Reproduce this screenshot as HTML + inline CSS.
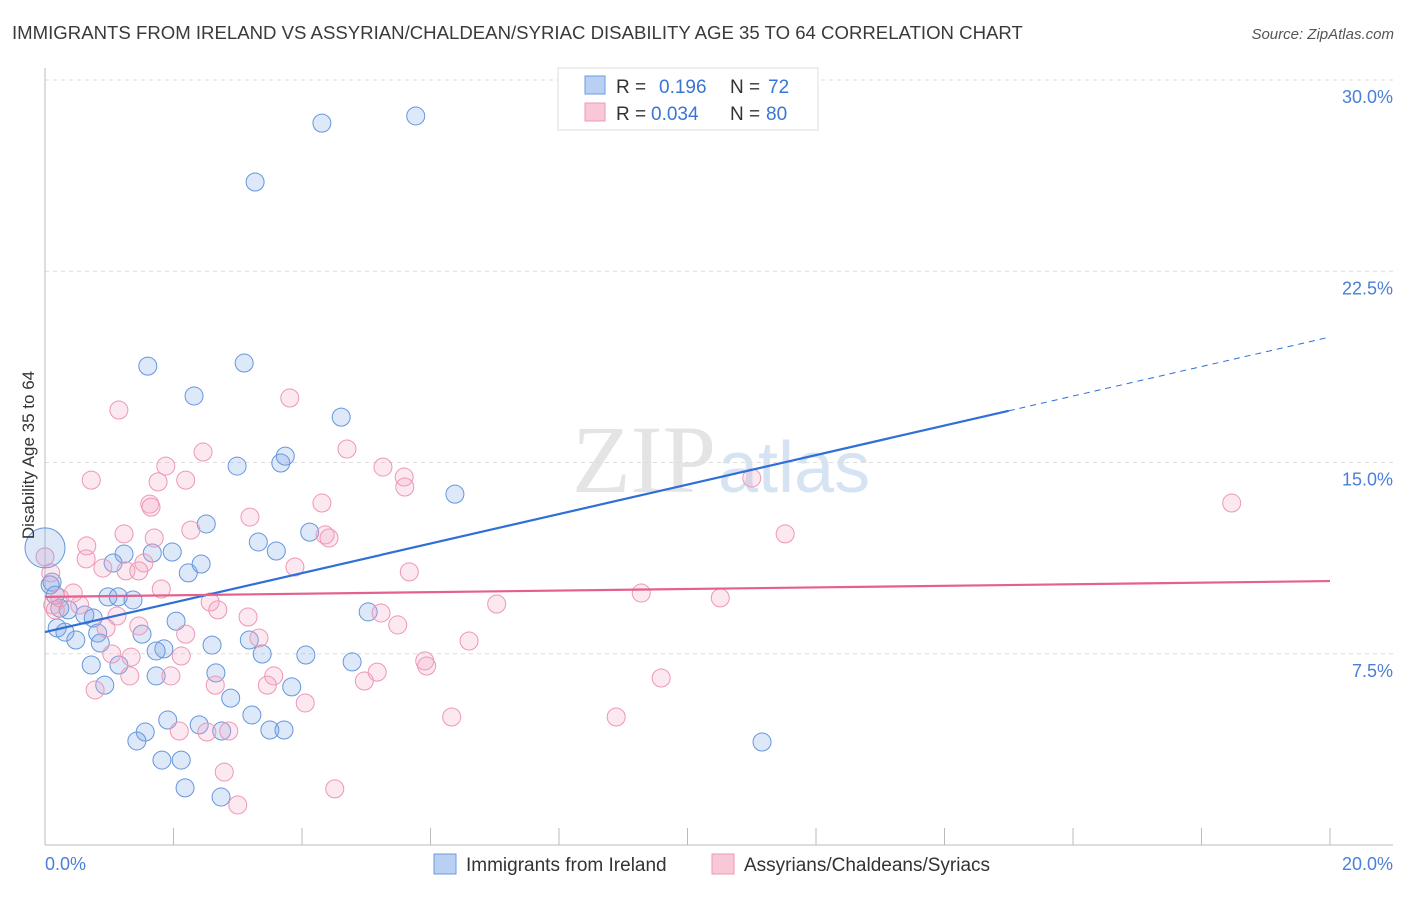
<!DOCTYPE html>
<html><head><meta charset="utf-8"><style>
body{margin:0;background:#fff;font-family:"Liberation Sans",sans-serif}
</style></head><body>
<svg width="1406" height="892" xmlns="http://www.w3.org/2000/svg" id="chart">
<text x="12" y="39" font-size="18.6" fill="#3a3a3a">IMMIGRANTS FROM IRELAND VS ASSYRIAN/CHALDEAN/SYRIAC DISABILITY AGE 35 TO 64 CORRELATION CHART</text>
<text x="1394" y="39" font-size="15" fill="#555" font-style="italic" text-anchor="end">Source: ZipAtlas.com</text>
<text x="716" y="492" font-size="96" fill="#e4e4e4" text-anchor="end" font-family="Liberation Serif">ZIP</text>
<text x="718" y="492" font-size="72" fill="#d6e3f3">atlas</text>
<g id="grid"></g><g id="axes"></g><g id="marks"></g><g id="lines"></g>
<text x="34" y="455" font-size="17" fill="#333" text-anchor="middle" transform="rotate(-90 34 455)">Disability Age 35 to 64</text>
<text x="45" y="870" font-size="18" fill="#4a7fd6">0.0%</text>
<text x="1393" y="870" font-size="18" fill="#4a7fd6" text-anchor="end">20.0%</text>
<g>
<rect x="558" y="68" width="260" height="62" fill="#fff" stroke="#ddd"/>
<rect x="585" y="76" width="20" height="18" fill="#b9d0f3" stroke="#6a9be0"/>
<rect x="585" y="103" width="20" height="18" fill="#f9c8d7" stroke="#ee9ab5"/>
<text x="616" y="93" font-size="19" fill="#333">R =</text>
<text x="659" y="93" font-size="19" fill="#3a75d4">0.196</text>
<text x="730" y="93" font-size="19" fill="#333">N =</text>
<text x="768" y="93" font-size="19" fill="#3a75d4">72</text>
<text x="616" y="120" font-size="19" fill="#333">R =</text>
<text x="651" y="120" font-size="19" fill="#3a75d4">0.034</text>
<text x="730" y="120" font-size="19" fill="#333">N =</text>
<text x="766" y="120" font-size="19" fill="#3a75d4">80</text>
</g>
<g>
<rect x="434" y="854" width="22" height="20" fill="#b9d0f3" stroke="#6a9be0"/>
<text x="466" y="871" font-size="19" fill="#333">Immigrants from Ireland</text>
<rect x="712" y="854" width="22" height="20" fill="#f9c8d7" stroke="#ee9ab5"/>
<text x="744" y="871" font-size="19" fill="#333">Assyrians/Chaldeans/Syriacs</text>
</g>
</svg>
<script>
const yTicks=[7.5,15,22.5,30];
const yTickLabels=["7.5%","15.0%","22.5%","30.0%"];
const xTicks=[0,2,4,6,8,10,12,14,16,18,20];
const blueX=[4.31,5.77,3.27,1.60,3.10,2.32,4.61,3.74,3.67,2.99,6.38,2.51,4.12,3.32,3.60,1.23,1.67,1.98,1.06,2.43,2.23,0.11,0.16,0.98,1.14,1.37,0.23,0.36,0.62,0.75,2.04,5.03,0.19,0.31,0.48,0.82,1.51,0.86,2.60,3.18,1.85,1.73,3.38,4.06,4.78,0.72,1.15,2.66,1.73,0.93,3.84,2.89,3.22,1.91,2.40,1.56,1.43,3.50,3.72,2.75,1.82,2.12,2.18,2.74,11.16,0.08];
const blueY=[28.31,28.59,26.0,18.78,18.90,17.61,16.78,15.25,14.98,14.86,13.76,12.59,12.27,11.88,11.53,11.41,11.45,11.49,11.06,11.02,10.67,10.31,9.80,9.73,9.73,9.61,9.29,9.22,9.02,8.90,8.78,9.14,8.51,8.35,8.04,8.31,8.27,7.92,7.84,8.04,7.69,7.61,7.49,7.45,7.18,7.06,7.06,6.75,6.63,6.27,6.20,5.76,5.10,4.90,4.71,4.43,4.08,4.51,4.51,4.47,3.33,3.33,2.24,1.88,4.04,10.2];
const pinkX=[1.15,3.81,4.70,2.46,1.88,5.26,5.59,5.60,0.72,2.19,1.76,4.31,1.63,1.65,18.47,11.00,3.19,2.27,1.23,4.36,4.42,11.52,1.70,0.65,0.64,0.0,1.54,3.89,0.90,1.26,1.46,5.67,0.09,1.81,0.44,9.28,10.51,7.03,2.57,5.23,2.69,0.54,3.16,1.12,0.12,1.46,0.95,5.49,2.19,3.33,6.60,1.04,1.34,2.12,5.91,5.94,5.17,3.56,1.96,1.32,4.97,9.59,3.46,2.65,0.78,4.05,6.33,8.89,2.09,2.86,2.52,2.79,4.51,3.00,0.16,0.23];
const pinkY=[17.06,17.53,15.53,15.41,14.86,14.82,14.43,14.04,14.31,14.31,14.24,13.41,13.37,13.25,13.41,14.39,12.86,12.35,12.20,12.16,12.04,12.20,12.04,11.73,11.22,11.3,11.06,10.90,10.86,10.75,10.75,10.71,10.67,10.04,9.88,9.88,9.69,9.45,9.53,9.10,9.22,9.41,8.94,8.98,9.41,8.59,8.51,8.63,8.27,8.12,8.00,7.49,7.37,7.41,7.22,7.02,6.78,6.63,6.63,6.63,6.43,6.55,6.27,6.27,6.08,5.57,5.02,5.02,4.47,4.47,4.43,2.86,2.20,1.57,9.22,9.69];
const bigBlue=[0.0,11.65];
const blueTrend=[8.35,19.92];
const pinkTrend=[9.73,10.35];
const blueSolidEnd=15.0;
const NS="http://www.w3.org/2000/svg";
const X=v=>45+v/20*1285;
const Y=v=>845-v/30*765;
function mk(tag,attrs,parent){const e=document.createElementNS(NS,tag);for(const k in attrs)e.setAttribute(k,attrs[k]);document.getElementById(parent).appendChild(e);return e;}
yTicks.forEach((t,i)=>{
  const g=mk('line',{x1:45,x2:1393,y1:Y(t),y2:Y(t),stroke:'#ddd','stroke-dasharray':'4,4'},'grid');
  
  
  const l=mk('text',{x:1393,y:Y(t)+23,'font-size':18,fill:'#4a7fd6','text-anchor':'end'},'grid');
  l.textContent=yTickLabels[i];
  
  
});
const ax=mk('line',{x1:45,x2:1393,y1:845,y2:845,stroke:'#bbb'},'axes');


const ay=mk('line',{x1:45,x2:45,y1:68,y2:845,stroke:'#bbb'},'axes');


xTicks.forEach(t=>{
  const k=mk('line',{x1:X(t),x2:X(t),y1:828,y2:845,stroke:'#bbb'},'axes');
  
  
});
blueX.forEach((v,i)=>{
  const c=mk('circle',{cx:X(v),cy:Y(blueY[i]),r:9,fill:'rgba(120,165,230,0.25)',stroke:'#6696dc','stroke-width':1},'marks');
  
  
});
pinkX.forEach((v,i)=>{
  const c=mk('circle',{cx:X(v),cy:Y(pinkY[i]),r:9,fill:'rgba(245,165,195,0.25)',stroke:'#ee97b4','stroke-width':1},'marks');
  
  
});
const bb=mk('circle',{cx:X(bigBlue[0]),cy:Y(bigBlue[1]),r:20,fill:'rgba(120,165,230,0.25)',stroke:'#6696dc','stroke-width':1},'marks');


const bt=v=>blueTrend[0]+(blueTrend[1]-blueTrend[0])*v/20;
const l1=mk('line',{x1:X(0),y1:Y(bt(0)),x2:X(blueSolidEnd),y2:Y(bt(blueSolidEnd)),stroke:'#2f6fd6','stroke-width':2.2},'lines');


const l2=mk('line',{x1:X(blueSolidEnd),y1:Y(bt(blueSolidEnd)),x2:X(20),y2:Y(bt(20)),stroke:'#2f6fd6','stroke-width':1,'stroke-dasharray':'6,5'},'lines');


const l3=mk('line',{x1:X(0),y1:Y(pinkTrend[0]),x2:X(20),y2:Y(pinkTrend[1]),stroke:'#e5608e','stroke-width':2.2},'lines');


</script>
</body></html>
